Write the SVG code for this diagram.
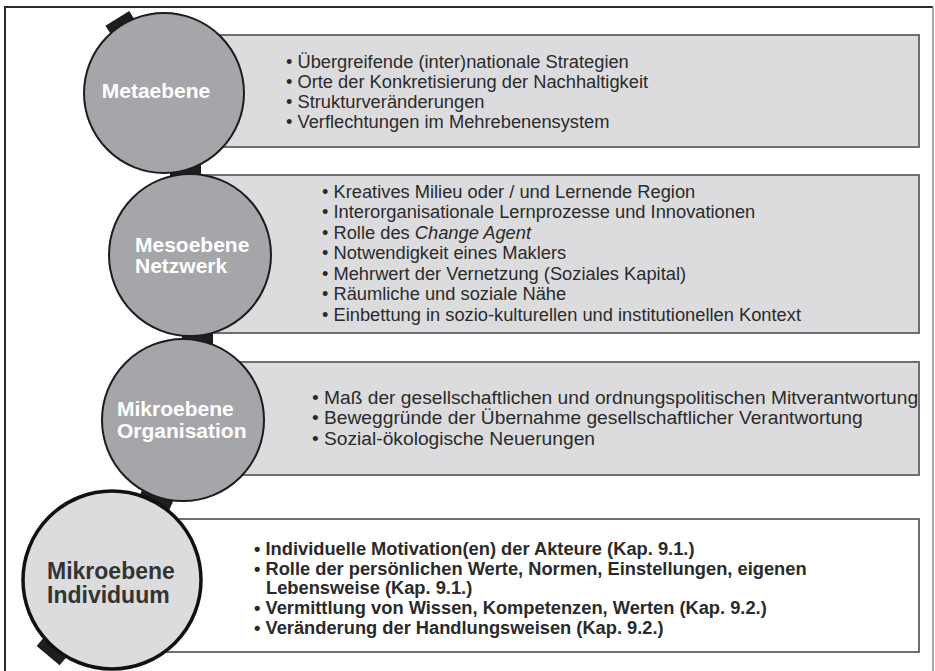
<svg xmlns="http://www.w3.org/2000/svg" width="935" height="671" viewBox="0 0 935 671">
  <style>
    .frame { fill: none; stroke: #2b2b2b; stroke-width: 2; }
    .frame-r { fill: none; stroke: #8a8a8a; stroke-width: 1.5; }
    .box { fill: #dcdcde; stroke: #6f6f6f; stroke-width: 2; }
    .box-w { fill: #ffffff; stroke: #6f6f6f; stroke-width: 2; }
    .ring { fill: #a6a6aa; stroke: #1c1c1c; stroke-width: 2; }
    .ring-l { fill: #dcdcde; stroke: #111111; stroke-width: 3.5; }
    .link { fill: #1e1e1e; }
    .lbl { font-family: "Liberation Sans", Arial, sans-serif; font-weight: bold; font-size: 21px; fill: #ffffff; }
    .lbl-d { font-family: "Liberation Sans", Arial, sans-serif; font-weight: bold; font-size: 23px; fill: #333333; }
    .item { font-family: "Liberation Sans", Arial, sans-serif; font-size: 18.3px; fill: #2a2a2a; }
    .item-l { font-family: "Liberation Sans", Arial, sans-serif; font-size: 19.2px; fill: #2a2a2a; }
    .item-b { font-family: "Liberation Sans", Arial, sans-serif; font-weight: bold; font-size: 18.3px; fill: #2a2a2a; }
  </style>

  <rect x="0" y="0" width="935" height="671" fill="#ffffff"/>

  <!-- outer frame -->
  <path class="frame" d="M5,671 V7 H933"/>
  <path class="frame-r" d="M933,7 V671"/>

  <!-- chain links between the level circles -->
  <g id="connectors">
    <rect class="link" x="-14" y="-88" width="28" height="10" transform="translate(164,93) rotate(-32)"/>
    <rect class="link" x="170" y="160" width="31" height="22"/>
    <rect class="link" x="182" y="326" width="31" height="24"/>
    <rect class="link" x="-9" y="-12" width="33" height="29" transform="translate(150.1,494) rotate(23.9)"/>
    <rect class="link" x="-15" y="-99" width="30" height="12" transform="translate(112,580) rotate(-139.8)"/>
  </g>

  <!-- Metaebene -->
  <g id="metaebene">
    <rect class="box" x="170" y="35" width="749" height="112"/>
    <circle class="ring" cx="164" cy="93" r="80"/>
    <text class="lbl" x="156" y="98" text-anchor="middle">Metaebene</text>
    <text class="item" x="286" y="67.5">• Übergreifende (inter)nationale Strategien</text>
    <text class="item" x="286" y="87.5">• Orte der Konkretisierung der Nachhaltigkeit</text>
    <text class="item" x="286" y="107.5">• Strukturveränderungen</text>
    <text class="item" x="286" y="127.5">• Verflechtungen im Mehrebenensystem</text>
  </g>

  <!-- Mesoebene Netzwerk -->
  <g id="mesoebene">
    <rect class="box" x="195" y="175" width="724" height="158"/>
    <circle class="ring" cx="190" cy="255" r="81"/>
    <text class="lbl" x="135" y="251.5">Mesoebene</text>
    <text class="lbl" x="135" y="273">Netzwerk</text>
    <text class="item" x="322" y="197.7">• Kreatives Milieu oder / und Lernende Region</text>
    <text class="item" x="322" y="218.2">• Interorganisationale Lernprozesse und Innovationen</text>
    <text class="item" x="322" y="238.7">• Rolle des <tspan font-style="italic">Change Agent</tspan></text>
    <text class="item" x="322" y="259.2">• Notwendigkeit eines Maklers</text>
    <text class="item" x="322" y="279.7">• Mehrwert der Vernetzung (Soziales Kapital)</text>
    <text class="item" x="322" y="300.2">• Räumliche und soziale Nähe</text>
    <text class="item" x="322" y="320.7">• Einbettung in sozio-kulturellen und institutionellen Kontext</text>
  </g>

  <!-- Mikroebene Organisation -->
  <g id="mikro-organisation">
    <rect class="box" x="190" y="362" width="729" height="113"/>
    <circle class="ring" cx="183" cy="420" r="81"/>
    <text class="lbl" x="117" y="416">Mikroebene</text>
    <text class="lbl" x="117" y="438">Organisation</text>
    <text class="item-l" x="312" y="403.5">• Maß der gesellschaftlichen und ordnungspolitischen Mitverantwortung</text>
    <text class="item-l" x="312" y="424">• Beweggründe der Übernahme gesellschaftlicher Verantwortung</text>
    <text class="item-l" x="312" y="444.5">• Sozial-ökologische Neuerungen</text>
  </g>

  <!-- Mikroebene Individuum -->
  <g id="mikro-individuum">
    <rect class="box-w" x="120" y="519" width="799" height="133"/>
    <circle class="ring-l" cx="112" cy="580" r="89"/>
    <text class="lbl-d" x="47" y="578.5">Mikroebene</text>
    <text class="lbl-d" x="47" y="602.5">Individuum</text>
    <text class="item-b" x="254" y="555">• Individuelle Motivation(en) der Akteure (Kap. 9.1.)</text>
    <text class="item-b" x="254" y="574.7">• Rolle der persönlichen Werte, Normen, Einstellungen, eigenen</text>
    <text class="item-b" x="266" y="594.4">Lebensweise (Kap. 9.1.)</text>
    <text class="item-b" x="254" y="614.1">• Vermittlung von Wissen, Kompetenzen, Werten (Kap. 9.2.)</text>
    <text class="item-b" x="254" y="633.8">• Veränderung der Handlungsweisen (Kap. 9.2.)</text>
  </g>
</svg>
